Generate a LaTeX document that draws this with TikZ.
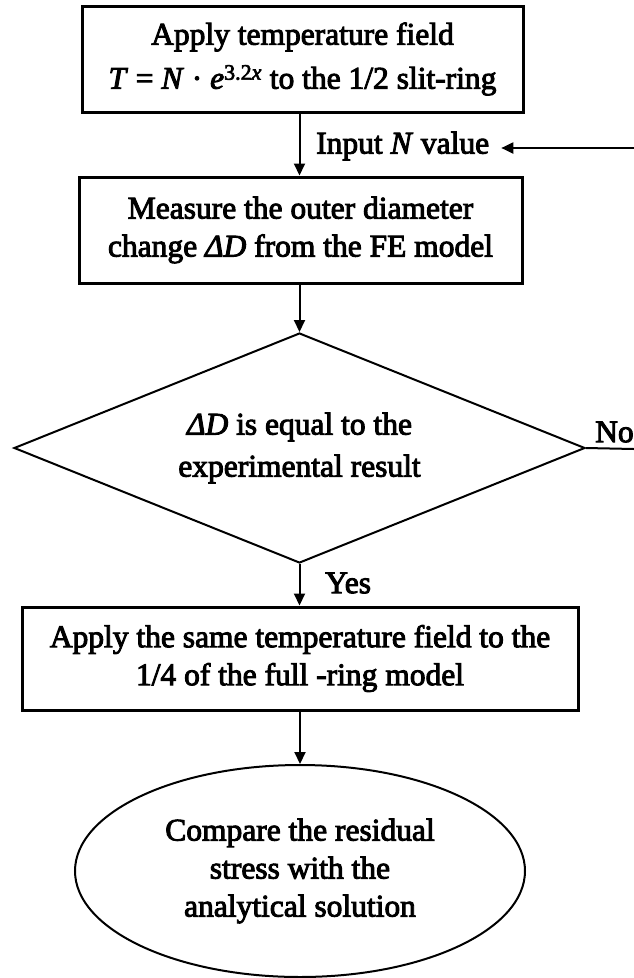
\documentclass[tikz,border=0pt]{standalone}
\usepackage{fontspec}
\setmainfont{Liberation Serif}[FakeBold=3]
\usetikzlibrary{shapes.geometric,arrows.meta}
\tikzset{
  box/.style={draw,line width=3pt,rectangle,inner sep=0pt,align=center},
  conn/.style={line width=2pt,-{Triangle[length=12pt,width=11pt]}},
  plain/.style={line width=2pt},
  lbl/.style={inner sep=0pt,align=center}
}
\begin{document}
\begin{tikzpicture}[x=1pt,y=-1pt,font=\fontsize{31.5}{38}\selectfont]
\useasboundingbox (0,0) rectangle (634,978);
\node[box,minimum width=441pt,minimum height=106pt] (b1) at (302.5,59)
  {Apply temperature field\\[6pt]\textit{T} = \textit{N} · \textit{e}\textsuperscript{3.2\textit{x}} to the 1/2 slit-ring};
\node[box,minimum width=443pt,minimum height=106pt] (b2) at (300.5,230)
  {Measure the outer diameter\\change \textit{ΔD} from the FE model};
\node[draw,diamond,line width=2pt,inner sep=0pt,aspect=2.48,align=center,
  minimum width=571pt,minimum height=230pt] (d) at (299.5,448)
  {\textit{ΔD} is equal to the\\[4pt]experimental result};
\node[box,minimum width=556pt,minimum height=103pt] (b3) at (300,658.5)
  {Apply the same temperature field to the\\1/4 of the full -ring model};
\node[draw,ellipse,line width=2pt,inner sep=0pt,align=center,
  minimum width=450pt,minimum height=212pt] (e) at (300,871)
  {Compare the residual\\stress with the\\analytical solution};
\node[lbl,anchor=west] (inp) at (316,146) {Input \textit{N} value};
\node[lbl,anchor=west] (no) at (595,432) {No};
\node[lbl,anchor=west] (yes) at (325,583) {Yes};
\coordinate (r1) at (634,148);
\coordinate (r2) at (634,449);
\draw[conn] (d.north |- b1.south) -- (d.north |- b2.north);
\draw[conn] (d.north |- b2.south) -- (d.north);
\draw[conn] (d.south) -- (d.south |- b3.north);
\draw[conn] (e.north |- b3.south) -- (e.north);
\draw[plain] (d.east) -- (r2);
\draw[conn] (r1) -- ([xshift=12pt]inp.east |- r1);
\end{tikzpicture}
\end{document}
